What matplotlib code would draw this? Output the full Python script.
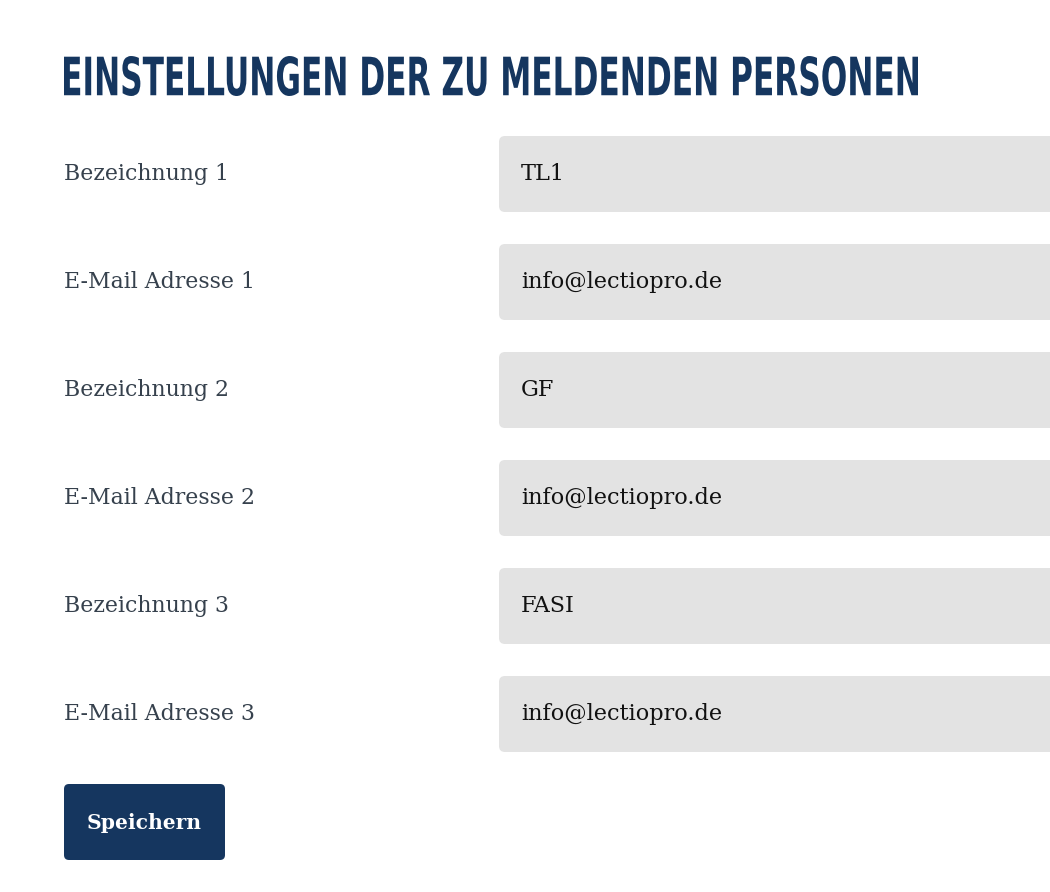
import matplotlib
matplotlib.use("Agg")
import matplotlib.pyplot as plt
from matplotlib.patches import FancyBboxPatch, PathPatch
from matplotlib.textpath import TextPath
from matplotlib.font_manager import FontProperties
from matplotlib.transforms import Affine2D

title = "EINSTELLUNGEN DER ZU MELDENDEN PERSONEN"
labels = ["Bezeichnung 1", "E-Mail Adresse 1", "Bezeichnung 2", "E-Mail Adresse 2", "Bezeichnung 3", "E-Mail Adresse 3"]
values = ["TL1", "info@lectiopro.de", "GF", "info@lectiopro.de", "FASI", "info@lectiopro.de"]
button = "Speichern"

navy = "#15365f"
W, H = 1050, 892
fig = plt.figure(figsize=(W/100, H/100), dpi=100)
ax = fig.add_axes([0, 0, 1, 1])
ax.set_xlim(0, W); ax.set_ylim(H, 0); ax.axis("off")

def fit(t, target):
    fig.canvas.draw()
    w = t.get_window_extent().width
    t.set_fontsize(t.get_fontsize() * target / w)

# title: condensed bold caps via stretched text path
tp = TextPath((0, 0), title, size=100, prop=FontProperties(family="DejaVu Sans", weight="bold"))
ext = tp.get_extents()
sx = 854 / ext.width
sy = 40 / ext.height
tr = Affine2D().translate(-ext.x0, -ext.y0).scale(sx, -sy).translate(64, 96)
ax.add_patch(PathPatch(tr.transform_path(tp), fc=navy, ec="none"))

for i, (lab, val) in enumerate(zip(labels, values)):
    top = 136 + i * 108
    ax.add_patch(FancyBboxPatch((499, top), 600, 76, boxstyle="round,pad=0,rounding_size=6",
                                fc="#e3e3e3", ec="none"))
    lt = ax.text(64, top + 38, lab, fontsize=13, family="DejaVu Serif", color="#36414d", va="center")
    vt = ax.text(521, top + 38, val, fontsize=13, family="DejaVu Serif", color="#111111", va="center")
    if i == 1:
        fit(lt, 190); lsz = lt.get_fontsize()
        fit(vt, 201); vsz = vt.get_fontsize()
for txt in ax.texts:
    txt.set_fontsize(lsz if txt.get_position()[0] == 64 else vsz)

ax.add_patch(FancyBboxPatch((64, 784), 161, 76, boxstyle="round,pad=0,rounding_size=5", fc=navy, ec="none"))
bt = ax.text(144.5, 823, button, fontsize=15, fontweight="bold", family="DejaVu Serif", color="white", ha="center", va="center")
fit(bt, 115)

fig.savefig("out.png", dpi=100)
